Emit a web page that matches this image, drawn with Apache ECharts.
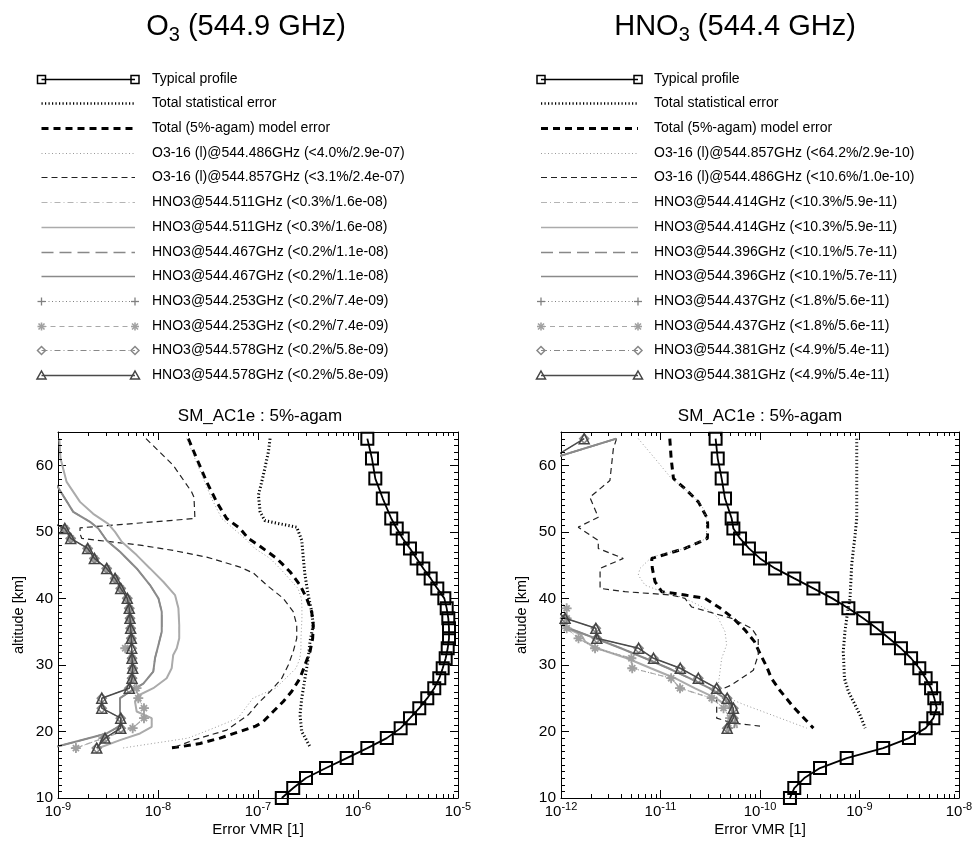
<!DOCTYPE html>
<html><head><meta charset="utf-8">
<script src="https://cdn.jsdelivr.net/npm/echarts@6/dist/echarts.min.js"></script>
<style>html,body{margin:0;padding:0;background:#fff}#c{width:973px;height:841px}</style>
</head><body><div id="c"></div>
<script>
// ---------------- DATA ----------------
const altGrid = [64,61,58,55,52,50.5,49,47.5,46,44.5,43,41.5,40,38.5,37,35.5,34,32.5,31,29.5,28,26.5,25,23.5,22,20.5,19,17.5,16,14.5,13,11.5,10];

// O3 panel (left)
const o3TypicalVal = [1.24e-6,1.38e-6,1.49e-6,1.77e-6,2.15e-6,2.44e-6,2.80e-6,3.31e-6,3.86e-6,4.50e-6,5.33e-6,6.21e-6,7.30e-6,7.71e-6,8.00e-6,8.13e-6,8.13e-6,7.89e-6,7.53e-6,7.03e-6,6.50e-6,5.79e-6,4.93e-6,4.10e-6,3.31e-6,2.67e-6,1.94e-6,1.24e-6,7.71e-7,4.79e-7,3.02e-7,2.25e-7,1.73e-7];
const o3StatAlt = [64,62,58.5,55.5,53,51.7,51.2,50.7,48.7,46,43.5,40.5,38,36,33.5,31,28,25,22.5,20,17.7];
const o3StatVal = [1.32e-7,1.27e-7,1.13e-7,1.01e-7,1.05e-7,1.17e-7,1.66e-7,2.44e-7,2.74e-7,2.84e-7,2.95e-7,3.18e-7,3.44e-7,3.57e-7,3.31e-7,3.18e-7,2.95e-7,2.74e-7,2.63e-7,2.74e-7,3.31e-7];
const o3ModelAlt = [64,61,57.5,54.5,52,50.5,49,48,46,44,42,40,38,36,34,32,30,28,26,24.5,23,21.5,20.8,20,19,18.2,17.7,17.5];
const o3ModelVal = [2.01e-8,2.44e-8,3.07e-8,3.86e-8,4.86e-8,6.61e-8,8.0e-8,1.01e-7,1.54e-7,2.09e-7,2.63e-7,3.07e-7,3.44e-7,3.57e-7,3.52e-7,3.31e-7,2.95e-7,2.63e-7,2.17e-7,1.79e-7,1.42e-7,1.13e-7,9.5e-8,6.61e-8,4.17e-8,2.63e-8,1.66e-8,1.27e-8];
const o3IsoAAlt = [64,61,58,55,52,50.5,49,47.5,46,44.5,43,41.5,40,38.5,37,35.5,34,32.5,31,29.5,28,26.5,25,23.5,22,20.5,19,17.5];
const o3IsoAVal = [1.94e-8,2.34e-8,2.84e-8,3.44e-8,4.34e-8,5.66e-8,7.41e-8,9.3e-8,1.32e-7,1.66e-7,2.04e-7,2.51e-7,2.72e-7,2.75e-7,2.75e-7,2.72e-7,2.69e-7,2.69e-7,2.63e-7,2.4e-7,1.9e-7,1.5e-7,8.9e-8,7.5e-8,6.3e-8,3.6e-8,2.0e-8,4.4e-9];
const o3IsoBAlt = [64,60,56,55.2,52,50.6,49.7,49,48,47.2,46.2,44.7,43.8,42,40,38,36,34,32,30,28,26,24,22.5,20.2,18.7,17.5];
const o3IsoBVal = [7.59e-9,1.42e-8,2.17e-8,2.29e-8,2.34e-8,1.66e-9,1.66e-9,1.73e-9,6.61e-9,1.42e-8,3.07e-8,6.61e-8,9.0e-8,1.22e-7,1.79e-7,2.25e-7,2.44e-7,2.44e-7,2.25e-7,2.01e-7,1.73e-7,1.32e-7,9.7e-8,8.0e-8,4.86e-8,2.25e-8,1.4e-8];
const o3LightAlt = [64,61,57.5,54.5,52.7,51.2,50,48.5,46.5,44.5,42.5,40.5,38.5,36,34,32.5,31.5,29.5,28,26.5,25.4,24.5,23,22,20.7,19.7,18.7,17.4];
const o3LightVal = [1.03e-9,1.06e-9,1.22e-9,1.66e-9,2.25e-9,3.18e-9,3.72e-9,4.34e-9,6.12e-9,8.32e-9,1.13e-8,1.48e-8,1.60e-8,1.63e-8,1.63e-8,1.54e-8,1.42e-8,1.37e-8,1.22e-8,8.97e-9,6.35e-9,5.89e-9,6.12e-9,8.65e-9,8.65e-9,6.61e-9,4.17e-9,2.44e-9];
const o3MedAlt = [58,56.7,53,51.5,50.5,48.7,47,44.5,42,40,38,35,33,31,29,27.2,26,25,23,21,19.7,17.85,17.5];
const o3MedVal = [8.5e-10,1.0e-9,1.42e-9,2.09e-9,2.53e-9,3.07e-9,4.17e-9,6.12e-9,8.32e-9,1.01e-8,1.09e-8,1.09e-8,1.01e-8,9.33e-9,8.97e-9,7.13e-9,5.25e-9,4.17e-9,4.17e-9,4.34e-9,3.07e-9,1.05e-9,8.5e-10];
const o3LowAlt = [52,50.5,49,47.5,46,44.5,43,41.5,40,38.5,37,35.5,34,32.5,31,29.5,28,26.5,25,23.5,22,20.5,19,17.5];
const o3StarVal = [7.0e-10,1.17e-9,1.34e-9,1.98e-9,2.31e-9,3.07e-9,3.72e-9,4.24e-9,4.93e-9,5.16e-9,5.25e-9,5.33e-9,5.41e-9,4.7e-9,5.50e-9,5.58e-9,5.50e-9,6.1e-9,6.35e-9,7.24e-9,7.24e-9,5.58e-9,2.84e-9,1.51e-9];
const o3TriVal = [7.0e-10,1.17e-9,1.34e-9,1.98e-9,2.31e-9,3.07e-9,3.72e-9,4.24e-9,4.93e-9,5.16e-9,5.25e-9,5.33e-9,5.41e-9,5.46e-9,5.50e-9,5.58e-9,5.50e-9,5.16e-9,2.74e-9,2.74e-9,4.24e-9,4.24e-9,2.95e-9,2.44e-9];

// HNO3 panel (right)
const hnTypicalVal = [3.58e-11,3.76e-11,4.12e-11,4.45e-11,5.19e-11,5.40e-11,6.30e-11,7.74e-11,1.0e-10,1.42e-10,2.21e-10,3.44e-10,5.33e-10,7.73e-10,1.09e-9,1.49e-9,1.98e-9,2.61e-9,3.30e-9,3.99e-9,4.62e-9,5.24e-9,5.65e-9,5.97e-9,5.52e-9,4.62e-9,3.14e-9,1.73e-9,7.43e-10,4.01e-10,2.79e-10,2.21e-10,2.0e-10];
const hnStatAlt = [64,52,49.5,45,40,38,35,32,28,26,24,22.5,20.5];
const hnStatVal = [9.38e-10,9.38e-10,9.02e-10,8.34e-10,8.04e-10,7.6e-10,7.14e-10,6.87e-10,7.05e-10,7.73e-10,9.02e-10,1.01e-9,1.14e-9];
const hnModelAlt = [64,61,58,56.5,54.5,52,51,49,47.5,46,44.5,42.5,41,40.5,40,38.5,37,35.2,33.5,31.7,29.7,28,26.2,23.7,20.5];
const hnModelVal = [1.24e-11,1.28e-11,1.35e-11,1.76e-11,2.40e-11,2.96e-11,2.98e-11,2.96e-11,1.76e-11,8.15e-12,8.28e-12,8.81e-12,1.03e-11,1.76e-11,2.8e-11,4.0e-11,5.4e-11,7.1e-11,8.8e-11,1.0e-10,1.17e-10,1.3e-10,1.58e-10,2.16e-10,3.44e-10];
const hnIsoAAlt = [64,61,58,56,54,52,49,47.5,46.2,44.5,43.5,42,41,40.2,39.5,38,37,35,33,31,27,25.5,24,22.5,20.5];
const hnIsoAVal = [5.98e-12,8.81e-12,1.29e-11,1.91e-11,2.6e-11,2.9e-11,2.9e-11,1.76e-11,8.15e-12,6.22e-12,5.98e-12,6.98e-12,1.03e-11,1.63e-11,2.06e-11,3.27e-11,3.81e-11,4.45e-11,4.62e-11,4.12e-11,3.81e-11,4.0e-11,7.0e-11,1.3e-10,2.95e-10];
const hnIsoBAlt = [64,62.5,57.7,55.2,52.2,50.7,48.7,47.5,46,44.5,41.5,41,40.5,40,38.7,37,35.5,34,31.5,29.2,27,26,22,21.3,20.8];
const hnIsoBVal = [3.62e-12,3.36e-12,3.10e-12,1.95e-12,2.37e-12,1.49e-12,2.37e-12,2.37e-12,4.23e-12,2.47e-12,2.47e-12,4.4e-12,1.29e-11,1.76e-11,2.06e-11,5.19e-11,8.24e-11,9.6e-11,9.6e-11,8.57e-11,5.19e-11,3.67e-11,3.67e-11,5.2e-11,1.0e-10];
const hnLightAlt = [64,61,36.5,35.5,34.5,33.5,32.5,31,29.5,28,26.5,25,23.5,22,20.5];
const hnLightVal = [3.6e-12,8.0e-13,9.0e-13,1.15e-12,1.6e-12,1.75e-12,2.3e-12,4.6e-12,8.0e-12,1.4e-11,2.2e-11,3.6e-11,5.0e-11,5.6e-11,5.9e-11];
const hnMedAlt = [64,61,37,35.5,34,32.5,31,29.5,28,26.5,25,23.5,22,20.5];
const hnMedVal = [3.6e-12,8.0e-13,9.0e-13,1.2e-12,2.2e-12,4.0e-12,7.0e-12,1.2e-11,1.95e-11,3.1e-11,4.4e-11,5.2e-11,5.7e-11,5.5e-11];
const hnStarAlt = [40,38.5,37,35.5,34,32.5,31,29.5,28,26.5,25,23.5,22,20.5];
const hnStarVal = [9.0e-13,1.14e-12,1.14e-12,1.14e-12,1.5e-12,2.2e-12,5.1e-12,5.2e-12,1.28e-11,1.57e-11,3.27e-11,4.3e-11,5.0e-11,4.8e-11];
const hnTriAlt = [64,61,38.5,37,35.5,34,32.5,31,29.5,28,26.5,25,23.5,22,20.5];
const hnTriVal = [1.71e-12,8.0e-13,8.5e-13,1.10e-12,2.24e-12,2.29e-12,6.03e-12,8.51e-12,1.58e-11,2.40e-11,3.67e-11,4.68e-11,5.40e-11,5.40e-11,4.68e-11];

// legend texts
const legendO3 = ['Typical profile','Total statistical error','Total (5%-agam) model error',
 'O3-16 (l)@544.486GHz (<4.0%/2.9e-07)','O3-16 (l)@544.857GHz (<3.1%/2.4e-07)',
 'HNO3@544.511GHz (<0.3%/1.6e-08)','HNO3@544.511GHz (<0.3%/1.6e-08)',
 'HNO3@544.467GHz (<0.2%/1.1e-08)','HNO3@544.467GHz (<0.2%/1.1e-08)',
 'HNO3@544.253GHz (<0.2%/7.4e-09)','HNO3@544.253GHz (<0.2%/7.4e-09)',
 'HNO3@544.578GHz (<0.2%/5.8e-09)','HNO3@544.578GHz (<0.2%/5.8e-09)'];
const legendHN = ['Typical profile','Total statistical error','Total (5%-agam) model error',
 'O3-16 (l)@544.857GHz (<64.2%/2.9e-10)','O3-16 (l)@544.486GHz (<10.6%/1.0e-10)',
 'HNO3@544.414GHz (<10.3%/5.9e-11)','HNO3@544.414GHz (<10.3%/5.9e-11)',
 'HNO3@544.396GHz (<10.1%/5.7e-11)','HNO3@544.396GHz (<10.1%/5.7e-11)',
 'HNO3@544.437GHz (<1.8%/5.6e-11)','HNO3@544.437GHz (<1.8%/5.6e-11)',
 'HNO3@544.381GHz (<4.9%/5.4e-11)','HNO3@544.381GHz (<4.9%/5.4e-11)'];

// axis tick labels
const xExpO3 = ['-9','-8','-7','-6','-5'];
const xExpHN = ['-12','-11','-10','-9','-8'];
const yTickLabels = ['10','20','30','40','50','60'];
const minorMant = [2,3,4,5,6,7,8,9];
const decO3 = [-9,-8,-7,-6];
const decHN = [-12,-11,-10,-9];

// ---------------- STYLE ----------------
const FONT = '"Liberation Sans", Arial, Helvetica, sans-serif';
const STAR = 'path://M4.1,0L5.9,0L5.9,10L4.1,10Z M0,4.1L10,4.1L10,5.9L0,5.9Z M1.3,2.6L2.6,1.3L8.7,7.4L7.4,8.7Z M7.4,1.3L8.7,2.6L2.6,8.7L1.3,7.4Z';
const PLUS = 'path://M4.4,0L5.6,0L5.6,10L4.4,10Z M0,4.4L10,4.4L10,5.6L0,5.6Z';
const STY = [
 {c:'#000', w:1.8, lw:1.5, dash:null, sym:'rect', ss:12, sc:'#000', hollow:true, bw:2},
 {c:'#000', w:3, lw:2.5, dash:[1.2,2.3]},
 {c:'#000', w:3, lw:3, dash:[7,5]},
 {c:'#999', w:1, lw:1, dash:[1,2.5]},
 {c:'#222', w:1.2, lw:1.2, dash:[6,4]},
 {c:'#b4b4b4', w:1, lw:1, dash:[6,3,1,3]},
 {c:'#ababab', w:2, lw:1.5, dash:null},
 {c:'#888', w:1.5, lw:1.5, dash:[12,6]},
 {c:'#8a8a8a', w:2, lw:1.5, dash:null},
 {c:'#808080', w:1, lw:1, dash:[1,2.5], sym:PLUS, ss:8, sc:'#808080', leg:'plus'},
 {c:'#a8a8a8', w:1.2, lw:1.2, dash:[5,4], sym:STAR, ss:10, sc:'#a0a0a0', leg:'star'},
 {c:'#888', w:1, lw:1, dash:[6,3,1,3], sym:'diamond', ss:9, sc:'#888', hollow:true, bw:1.5, leg:'diamond'},
 {c:'#4a4a4a', w:1.5, lw:1.5, dash:null, sym:'triangle', ss:10, sc:'#444', hollow:true, bw:1.5, leg:'triangle'}
];
STY[0].leg = 'rect';

function pairs(vals, alts){ return vals.map((v,i)=>[v, alts[i]]); }

const panelData = [
 [[o3TypicalVal,altGrid],[o3StatVal,o3StatAlt],[o3ModelVal,o3ModelAlt],[o3IsoAVal,o3IsoAAlt],[o3IsoBVal,o3IsoBAlt],
  [o3LightVal,o3LightAlt],[o3LightVal,o3LightAlt],[o3MedVal,o3MedAlt],[o3MedVal,o3MedAlt],
  [o3StarVal,o3LowAlt],[o3StarVal,o3LowAlt],[o3TriVal,o3LowAlt],[o3TriVal,o3LowAlt]],
 [[hnTypicalVal,altGrid],[hnStatVal,hnStatAlt],[hnModelVal,hnModelAlt],[hnIsoAVal,hnIsoAAlt],[hnIsoBVal,hnIsoBAlt],
  [hnLightVal,hnLightAlt],[hnLightVal,hnLightAlt],[hnMedVal,hnMedAlt],[hnMedVal,hnMedAlt],
  [hnStarVal,hnStarAlt],[hnStarVal,hnStarAlt],[hnTriVal,hnTriAlt],[hnTriVal,hnTriAlt]]
];

const grids = [
 {left:58, top:432, width:400, height:366},
 {left:561, top:432, width:398, height:366}
];
const xRanges = [[1e-9,1e-5],[1e-12,1e-8]];
const xExps = [xExpO3, xExpHN];

const xAxes = [], yAxes = [], series = [];
const axisLineStyle = {show:true, onZero:false, lineStyle:{color:'#000', width:1}};
for (let g=0; g<2; g++){
  const exps = xExps[g];
  xAxes.push({type:'log', logBase:10, gridIndex:g, position:'bottom', min:xRanges[g][0], max:xRanges[g][1], splitNumber:4,
    axisLine:axisLineStyle, splitLine:{show:false},
    axisTick:{show:true, inside:true, length:8, lineStyle:{color:'#000'}},
    axisLabel:{show:true, margin:3, showMinLabel:true, showMaxLabel:true,
      formatter:(v,i)=>'{b|10}{e|'+(exps[i]!==undefined?exps[i]:'')+'}',
      rich:{b:{fontSize:15, fontFamily:FONT, color:'#000', lineHeight:22},
            e:{fontSize:11, fontFamily:FONT, color:'#000', lineHeight:12, verticalAlign:'top'}}},
    name:'Error VMR [1]', nameLocation:'middle', nameGap:24,
    nameTextStyle:{fontSize:15, fontFamily:FONT, color:'#000'}});
  xAxes.push({type:'log', logBase:10, gridIndex:g, position:'top', min:xRanges[g][0], max:xRanges[g][1], splitNumber:4,
    axisLine:axisLineStyle, splitLine:{show:false},
    axisTick:{show:true, inside:true, length:8, lineStyle:{color:'#000'}}, axisLabel:{show:false}});
  yAxes.push({type:'value', gridIndex:g, position:'left', min:10, max:65, interval:10,
    axisLine:axisLineStyle, splitLine:{show:false},
    axisTick:{show:true, inside:true, length:8, lineStyle:{color:'#000'}},
    axisLabel:{show:true, margin:5, showMaxLabel:false, fontSize:15.5, fontFamily:FONT, color:'#000',
      formatter:(v,i)=> (yTickLabels[i]!==undefined ? yTickLabels[i] : '')},
    name:'altitude [km]', nameLocation:'middle', nameGap:32,
    nameTextStyle:{fontSize:14.5, fontFamily:FONT, color:'#000'}});
  yAxes.push({type:'value', gridIndex:g, position:'right', min:10, max:65, interval:10,
    axisLine:axisLineStyle, splitLine:{show:false},
    axisTick:{show:true, inside:true, length:8, lineStyle:{color:'#000'}}, axisLabel:{show:false}});

  const xi = g*2, yi = g*2;
  panelData[g].forEach((pd, k)=>{
    const s = STY[k];
    const ser = {type:'line', xAxisIndex:xi, yAxisIndex:yi, data:pairs(pd[0], pd[1]),
      lineStyle:{color:s.c, width:s.w, type:s.dash ? s.dash : 'solid'},
      clip:true, silent:true, animation:false, emphasis:{disabled:true}, z:2+k*0.01};
    if (s.sym){
      ser.symbol = s.sym; ser.symbolSize = s.ss; ser.showSymbol = true;
      ser.itemStyle = s.hollow ? {color:'rgba(0,0,0,0)', borderColor:s.sc, borderWidth:s.bw}
                               : {color:s.sc, borderWidth:0};
    } else { ser.symbol = 'none'; ser.showSymbol = false; }
    series.push(ser);
  });

  // minor ticks on x (bottom + top)
  const decs = g===0 ? decO3 : decHN;
  const xMinor = [];
  decs.forEach(d => minorMant.forEach(m => xMinor.push([m*Math.pow(10,d), 10])));
  series.push({type:'custom', xAxisIndex:xi, yAxisIndex:yi, silent:true, animation:false, z:5, clip:false,
    data:xMinor, encode:{x:0,y:1},
    renderItem:(params, api)=>{
      const cs = params.coordSys; const x = Math.round(api.coord([api.value(0), api.value(1)])[0])+0.5;
      const b = cs.y+cs.height, t = cs.y;
      return {type:'group', children:[
        {type:'line', shape:{x1:x,y1:b,x2:x,y2:b-4}, style:{stroke:'#000', lineWidth:1}},
        {type:'line', shape:{x1:x,y1:t,x2:x,y2:t+4}, style:{stroke:'#000', lineWidth:1}}]};
    }});
  // minor ticks on y (left + right)
  const yMinor = [];
  for (let a=11; a<65; a++){ if (a%10!==0) yMinor.push([xRanges[g][0], a]); }
  series.push({type:'custom', xAxisIndex:xi, yAxisIndex:yi, silent:true, animation:false, z:5, clip:false,
    data:yMinor, encode:{x:0,y:1},
    renderItem:(params, api)=>{
      const cs = params.coordSys; const y = Math.round(api.coord([api.value(0), api.value(1)])[1])+0.5;
      const l = cs.x, r = cs.x+cs.width;
      return {type:'group', children:[
        {type:'line', shape:{x1:l,y1:y,x2:l+4,y2:y}, style:{stroke:'#000', lineWidth:1}},
        {type:'line', shape:{x1:r,y1:y,x2:r-4,y2:y}, style:{stroke:'#000', lineWidth:1}}]};
    }});
}

// ---------------- LEGEND (graphic) ----------------
function symEls(s, cx, cy){
  const st = {fill:'none', stroke:s.sc, lineWidth:1.5};
  switch(s.leg){
    case 'rect': return [{type:'rect', shape:{x:cx-4,y:cy-4,width:8,height:8}, style:{fill:'none', stroke:'#000', lineWidth:1.5}}];
    case 'triangle': return [{type:'polygon', shape:{points:[[cx,cy-4.5],[cx+4.5,cy+3.5],[cx-4.5,cy+3.5]]}, style:st}];
    case 'diamond': return [{type:'polygon', shape:{points:[[cx,cy-4],[cx+4,cy],[cx,cy+4],[cx-4,cy]]}, style:st}];
    case 'plus': return [
      {type:'line', shape:{x1:cx-4,y1:cy,x2:cx+4,y2:cy}, style:{stroke:s.sc, lineWidth:1.3}},
      {type:'line', shape:{x1:cx,y1:cy-4,x2:cx,y2:cy+4}, style:{stroke:s.sc, lineWidth:1.3}}];
    case 'star': return [
      {type:'line', shape:{x1:cx-4,y1:cy,x2:cx+4,y2:cy}, style:{stroke:s.sc, lineWidth:1.6}},
      {type:'line', shape:{x1:cx,y1:cy-4,x2:cx,y2:cy+4}, style:{stroke:s.sc, lineWidth:1.6}},
      {type:'line', shape:{x1:cx-3,y1:cy-3,x2:cx+3,y2:cy+3}, style:{stroke:s.sc, lineWidth:1.6}},
      {type:'line', shape:{x1:cx-3,y1:cy+3,x2:cx+3,y2:cy-3}, style:{stroke:s.sc, lineWidth:1.6}}];
  }
  return [];
}
function legendEls(x0, x1, tx, y0, dy, texts){
  const els = [];
  texts.forEach((t,i)=>{
    const s = STY[i]; const y = Math.round(y0 + dy*i) + 0.5;
    els.push({type:'line', silent:true, shape:{x1:x0,y1:y,x2:x1,y2:y}, style:{stroke:s.c, lineWidth:s.lw, lineDash:s.dash||null}});
    if (s.leg){ symEls(s,x0,y).concat(symEls(s,x1,y)).forEach(e=>{e.silent=true; els.push(e);}); }
    els.push({type:'text', silent:true, x:tx, y:y, style:{text:t, fontSize:14, fontFamily:FONT, fill:'#000', verticalAlign:'middle', align:'left'}});
  });
  return els;
}
const graphics = legendEls(41.5, 135, 152, 78.6, 24.7, legendO3).concat(legendEls(541, 638, 654, 78.6, 24.7, legendHN));

const titleRich = {
  a:{fontSize:29, fontFamily:FONT, color:'#000', lineHeight:36, fontWeight:'normal'},
  s:{fontSize:20, fontFamily:FONT, color:'#000', lineHeight:26, verticalAlign:'bottom', fontWeight:'normal'}
};
const option = {
  backgroundColor:'#fff',
  animation:false,
  title:[
    {text:'{a|O}{s|3}{a| (544.9 GHz)}', left:246, top:9, textAlign:'center', padding:0, textStyle:{fontWeight:'normal', rich:titleRich}},
    {text:'{a|HNO}{s|3}{a| (544.4 GHz)}', left:735, top:9, textAlign:'center', padding:0, textStyle:{fontWeight:'normal', rich:titleRich}},
    {text:'SM_AC1e : 5%-agam', left:260, top:408, textAlign:'center', padding:0, textStyle:{fontSize:17, fontWeight:'normal', fontFamily:FONT, color:'#000'}},
    {text:'SM_AC1e : 5%-agam', left:760, top:408, textAlign:'center', padding:0, textStyle:{fontSize:17, fontWeight:'normal', fontFamily:FONT, color:'#000'}}
  ],
  grid: grids.map(g=>Object.assign({outerBoundsMode:'none', containLabel:false}, g)),
  xAxis: xAxes, yAxis: yAxes, series: series, graphic: graphics
};
const chart = echarts.init(document.getElementById('c'), null, {renderer:'canvas', width:973, height:841});
chart.setOption(option);
</script></body></html>
